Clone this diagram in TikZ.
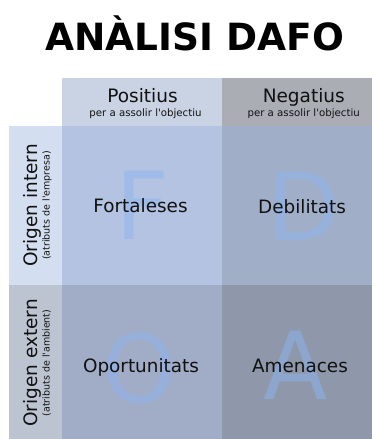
\documentclass[tikz,border=0pt]{standalone}
\usepackage{fontspec}
\setmainfont{DejaVu Sans}[Ligatures=TeXOff]
\definecolor{hpos}{HTML}{C9D3E3}
\definecolor{hneg}{HTML}{ABADB5}
\definecolor{lint}{HTML}{D3DEF0}
\definecolor{lext}{HTML}{BCC4D2}
\definecolor{cellF}{HTML}{B3C3E1}
\definecolor{cellD}{HTML}{A1AEC8}
\definecolor{cellO}{HTML}{A1ADC6}
\definecolor{cellA}{HTML}{8E98AA}
\definecolor{bigltr}{RGB}{140,180,240}
\definecolor{ink}{HTML}{111111}
\tikzset{
  x=1pt, y=-1pt,
  title/.style={font=\fontsize{37.5}{40}\selectfont\bfseries, text=black, anchor=base, inner sep=0pt},
  head/.style={font=\fontsize{18.5}{20}\selectfont, text=ink, anchor=base, inner sep=0pt},
  sub/.style={font=\fontsize{10.2}{11}\selectfont, text=ink, anchor=base, inner sep=0pt},
  sidesub/.style={font=\fontsize{9.5}{10}\selectfont, text=ink, anchor=base, inner sep=0pt},
  celltext/.style={font=\fontsize{18.4}{20}\selectfont, text=ink, anchor=base, inner sep=0pt},
  bigletter/.style={font=\fontsize{94}{96}\selectfont, text=bigltr, text opacity=0.5, anchor=base, inner sep=0pt},
}
\begin{document}
\begin{tikzpicture}
\useasboundingbox (0,0) rectangle (372,439);
\fill[white] (0,0) rectangle (372,439);
% areas
\fill[hpos] (62,78) rectangle (222,126);
\fill[hneg] (222,78) rectangle (372,126);
\fill[lint] (9,126) rectangle (62,285);
\fill[lext] (9,285) rectangle (62,439);
\fill[cellF] (62,126) rectangle (222,285);
\fill[cellD] (222,126) rectangle (372,285);
\fill[cellO] (62,285) rectangle (222,439);
\fill[cellA] (222,285) rectangle (372,439);
% title
\node[title] (title) at (195,50) {ANÀLISI DAFO};
% headers
\node[head] (pos) at (142.5,102) {Positius};
\node[sub] (possub) at (145.5,116) {per a assolir l'objectiu};
\node[head] (neg) at (303.8,102) {Negatius};
\node[sub] (negsub) at (303.7,116) {per a assolir l'objectiu};
% side labels
\node[head, rotate=90] (int) at (37,205.5) {Origen intern};
\node[sidesub, rotate=90] (intsub) at (49.5,205.5) {(atributs de l'empresa)};
\node[head, rotate=90] (ext) at (37,363) {Origen extern};
\node[sidesub, rotate=90] (extsub) at (49.5,363) {(atributs de l'ambient)};
% big letters
\node[bigletter] (bF) at (143,239.5) {F};
\node[bigletter] (bD) at (303.5,240) {D};
\node[bigletter] (bO) at (139.5,402) {O};
\node[bigletter] (bA) at (296,399) {A};
% cell texts
\node[celltext] (F) at (140.5,212) {Fortaleses};
\node[celltext] (D) at (302,213) {Debilitats};
\node[celltext] (O) at (141,372.5) {Oportunitats};
\node[celltext] (A) at (300,372.5) {Amenaces};
\end{tikzpicture}
\end{document}
